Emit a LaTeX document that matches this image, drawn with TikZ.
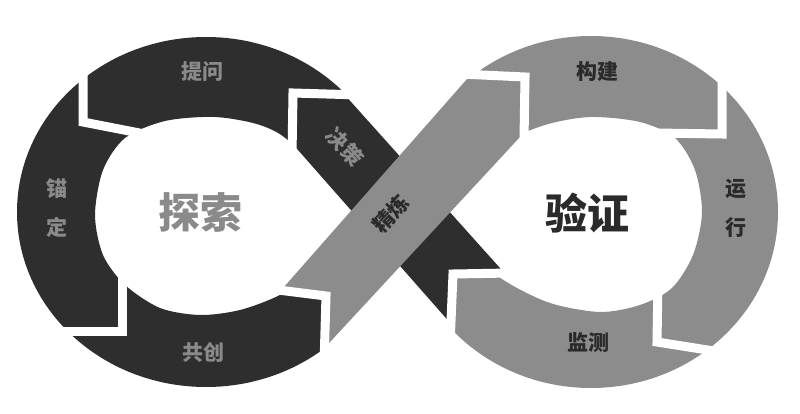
\documentclass[tikz,border=0pt]{standalone}
\usepackage{fontspec}
\newfontfamily\cjk{Noto Sans CJK SC}
\definecolor{segdark}{HTML}{2E2E2E}
\definecolor{seggray}{HTML}{8C8C8C}
\definecolor{txtgray}{HTML}{8A8A8A}
\definecolor{txtdark}{HTML}{2A2A2A}
\begin{document}
\begin{tikzpicture}[x=1pt,y=-1pt,
  gap/.style={white, line width=9pt, line join=miter, line cap=butt},
  seglabel/.style={font=\cjk\bfseries\fontsize{21}{39}\selectfont, inner sep=0pt, align=center},
  biglabel/.style={font=\cjk\bfseries\fontsize{42}{42}\selectfont, inner sep=0pt}]
\useasboundingbox (0,0) rectangle (800,414);
\fill[white] (0,0) rectangle (800,414);
% left ring
\begin{scope}
\clip (-10,-10) -- (420,-10) -- (420,94.5) -- (293,93) -- (292.5,291.8) -- (326,296) -- (324,420) -- (-10,420) -- cycle;
\fill[segdark, even odd rule] (206,212) ellipse [x radius=189pt, y radius=175pt]
  plot[smooth cycle] coordinates {(95,215) (103,170) (125,138) (165,121) (215,117) (260,125) (290,142) (330,190) (340,225) (320,270) (280,295) (240,310) (200,315) (160,308) (125,285) (103,255)};
\end{scope}
% right ring
\begin{scope}
\clip (810,-10) -- (380,-10) -- (380,70.3) -- (525,77) -- (524,273.3) -- (453,274) -- (449.5,420) -- (810,420) -- cycle;
\fill[seggray, even odd rule] (591,212) ellipse [x radius=187pt, y radius=176pt]
  plot[smooth cycle] coordinates {(702,213) (695,170) (675,138) (640,122) (590,117) (545,125) (510,142) (470,190) (460,215) (475,255) (505,281) (550,303) (600,312) (640,305) (672,288) (693,255)};
\end{scope}
% bands
\fill[segdark] (293,93) -- (344.4,94.5) -- (504.5,273.1) -- (453,274) -- (451.3,324.2) -- (292.1,143.3) -- cycle;
\fill[seggray] (281,290.4) -- (326,296) -- (325,347.4) -- (524.6,132) -- (525,77) -- (471,74.5) -- cycle;
% gaps
\draw[gap] (83,50) -- (83,122) -- (165,138);
\draw[gap] (50,331) -- (122,331) -- (122,265);
\draw[gap] (270,289) -- (326,296) -- (324,365);
\draw[gap] (460,74) -- (525,77) -- (524,140);
\draw[gap] (722,75) -- (722,134) -- (655,133);
\draw[gap] (658,280) -- (657,342) -- (720,352);
\draw[gap] (510,273) -- (453,274) -- (450,345);
\draw[gap] (360,95) -- (293,93) -- (292,155);
% labels
\node[seglabel, text=txtgray] (tiwen) at (202,72) {提问};
\node[seglabel, text=txtgray] (maoding) at (57,208) {锚\\定};
\node[seglabel, text=txtgray] (gongchuang) at (203,352) {共创};
\node[biglabel, text=txtgray] (tansuo) at (200,212) {探索};
\node[seglabel, text=txtgray, rotate=-48] (juece) at (345,147) {决策};
\node[seglabel, text=txtdark, rotate=47] (jinglian) at (391,214) {精炼};
\node[seglabel, text=txtdark] (goujian) at (597,72) {构建};
\node[seglabel, text=txtdark] (yunxing) at (736,208) {运\\行};
\node[seglabel, text=txtdark] (jiance) at (588,343) {监测};
\node[biglabel, text=txtdark] (yanzheng) at (587,213) {验证};
\end{tikzpicture}
\end{document}
